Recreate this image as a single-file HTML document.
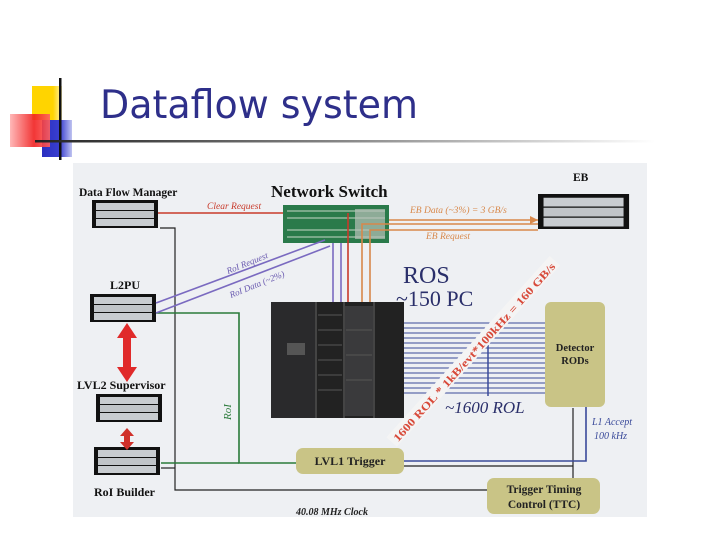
<!DOCTYPE html>
<html><head><meta charset="utf-8"><style>
html,body{margin:0;padding:0;background:#fff;width:720px;height:540px;overflow:hidden}
</style></head><body>
<svg width="720" height="540" viewBox="0 0 720 540" xmlns="http://www.w3.org/2000/svg" font-family="Liberation Serif, serif">
<defs>
<linearGradient id="hl" x1="0" x2="1"><stop offset="0" stop-color="#222"/><stop offset="0.5" stop-color="#888"/><stop offset="1" stop-color="#fff"/></linearGradient>
<linearGradient id="rg" x1="0" x2="1"><stop offset="0" stop-color="#ffb0b0"/><stop offset="0.6" stop-color="#f02020"/><stop offset="1" stop-color="#ff6060"/></linearGradient>
<linearGradient id="yg" x1="0" x2="1"><stop offset="0" stop-color="#ffd400"/><stop offset="0.7" stop-color="#ffd400"/><stop offset="1" stop-color="#fff2b0"/></linearGradient>
<linearGradient id="bg" x1="0" x2="1"><stop offset="0" stop-color="#2a2fc0"/><stop offset="0.6" stop-color="#3a3fd0"/><stop offset="1" stop-color="#c0c4f0"/></linearGradient>
<g id="srv"><rect x="0" y="0" width="66" height="28" fill="#111"/><rect x="4" y="3" width="58" height="7" fill="#c8ccd0"/><rect x="4" y="11" width="58" height="7" fill="#c0c4c8"/><rect x="4" y="19" width="58" height="7" fill="#c8ccd0"/></g>
</defs>
<!-- title decorations -->
<rect x="32" y="86" width="30" height="34" fill="url(#yg)"/>
<rect x="42" y="120" width="30" height="37" fill="url(#bg)"/>
<rect x="10" y="114" width="40" height="33" fill="url(#rg)" opacity="0.9"/>
<rect x="59" y="78" width="2.5" height="82" fill="#111"/>
<rect x="35" y="140" width="620" height="2.5" fill="url(#hl)"/>
<text x="100" y="118" font-family="DejaVu Sans, sans-serif" font-size="39" fill="#2e2f8a" textLength="318" lengthAdjust="spacingAndGlyphs">Dataflow system</text>
<!-- diagram panel -->
<rect x="73" y="163" width="574" height="354" fill="#eef0f3"/>
<!-- labels -->
<g font-weight="bold" fill="#111">
<text x="79" y="196" font-size="11.5">Data Flow Manager</text>
<text x="271" y="197" font-size="17">Network Switch</text>
<text x="573" y="181" font-size="11.5">EB</text>
<text x="110" y="289" font-size="12">L2PU</text>
<text x="77" y="389" font-size="12">LVL2 Supervisor</text>
<text x="94" y="496" font-size="12">RoI Builder</text>
</g>
<!-- servers -->
<use href="#srv" x="92" y="200"/>
<use href="#srv" x="538" y="194" transform="translate(538,194) scale(1.38,1.25) translate(-538,-194)"/>
<use href="#srv" x="90" y="294"/>
<use href="#srv" x="96" y="394"/>
<use href="#srv" x="94" y="447"/>
<!-- black lines -->
<polyline points="160,228 175,228 175,490 488,490" fill="none" stroke="#222" stroke-width="1.2"/>
<polyline points="161,468 175,468" fill="none" stroke="#222" stroke-width="1.2"/>
<polyline points="573,408 573,478" fill="none" stroke="#222" stroke-width="1.2"/>
<polyline points="404,466 573,466" fill="none" stroke="#222" stroke-width="1.2"/>
<!-- green lines -->
<polyline points="156,313 239,313 239,463 297,463" fill="none" stroke="#2a7a3a" stroke-width="1.6"/>
<polyline points="161,463 239,463" fill="none" stroke="#2a7a3a" stroke-width="1.6"/>
<text x="0" y="0" font-size="11" font-style="italic" fill="#2a7a3a" transform="translate(231,420) rotate(-90)">RoI</text>
<!-- blue lines -->
<polyline points="586,407 586,461 404,461" fill="none" stroke="#3a4a9a" stroke-width="1.6"/>
<g stroke="#3a4a9a" stroke-width="1">
<line x1="404" y1="323" x2="546" y2="323"/><line x1="404" y1="328" x2="546" y2="328"/><line x1="404" y1="333" x2="546" y2="333"/><line x1="404" y1="338" x2="546" y2="338"/><line x1="404" y1="343" x2="546" y2="343"/><line x1="404" y1="348" x2="546" y2="348"/><line x1="404" y1="353" x2="546" y2="353"/><line x1="404" y1="358" x2="546" y2="358"/><line x1="404" y1="363" x2="546" y2="363"/><line x1="404" y1="368" x2="546" y2="368"/><line x1="404" y1="373" x2="546" y2="373"/><line x1="404" y1="378" x2="546" y2="378"/><line x1="404" y1="383" x2="546" y2="383"/><line x1="404" y1="388" x2="546" y2="388"/><line x1="404" y1="393" x2="546" y2="393"/>
<line x1="488" y1="345" x2="488" y2="396" stroke-width="1.5"/>
</g>
<!-- switch -->
<rect x="283" y="205" width="106" height="38" fill="#2a7a4a"/>
<g stroke="#c8d8c8" stroke-width="1"><line x1="287" y1="211" x2="385" y2="211"/><line x1="287" y1="218" x2="385" y2="218"/><line x1="287" y1="230" x2="385" y2="230"/><line x1="287" y1="237" x2="385" y2="237"/></g>
<rect x="355" y="209" width="30" height="30" fill="#b8c0b8" opacity="0.7"/>
<!-- red clear request -->
<line x1="158" y1="213" x2="283" y2="213" stroke="#c83a2a" stroke-width="1.5"/>
<text x="207" y="209" font-size="9.5" font-style="italic" fill="#c83a2a">Clear Request</text>
<!-- orange -->
<g stroke="#d8884a" stroke-width="1.6" fill="none">
<polyline points="362,312 362,224 538,224"/><polyline points="370,312 370,230 538,230"/>
<line x1="389" y1="220" x2="538" y2="220"/>
</g>
<polygon points="538,220 530,216 530,224" fill="#d8884a"/>
<text x="410" y="213" font-size="9.5" font-style="italic" fill="#d8884a">EB Data (~3%) = 3 GB/s</text>
<text x="426" y="239" font-size="9.5" font-style="italic" fill="#d8884a">EB Request</text>
<!-- red/purple verticals -->
<line x1="348" y1="213" x2="348" y2="312" stroke="#c83a2a" stroke-width="1.6"/>
<polygon points="348,314 345,306 351,306" fill="#c83a2a"/>
<g stroke="#7a6ac0" stroke-width="1.6" fill="none">
<line x1="333" y1="243" x2="333" y2="310"/><line x1="341" y1="243" x2="341" y2="312"/>
<line x1="325" y1="240" x2="156" y2="303"/><line x1="330" y1="246" x2="156" y2="313"/>
</g>
<text x="0" y="0" font-size="9" font-style="italic" fill="#6a5ab0" transform="translate(228,274) rotate(-22)">RoI Request</text>
<text x="0" y="0" font-size="9" font-style="italic" fill="#6a5ab0" transform="translate(231,298) rotate(-22)">RoI Data (~2%)</text>
<!-- red double arrows -->
<polygon points="127,323 137,338 131,338 131,367 137,367 127,382 117,367 123,367 123,338 117,338" fill="#e02a2a"/>
<polygon points="127,428 134,436 130,436 130,442 134,442 127,450 120,442 124,442 124,436 120,436" fill="#d0302a"/>
<!-- rack -->
<rect x="271" y="302" width="133" height="116" fill="#222"/>
<rect x="271" y="302" width="44" height="116" fill="#2a2a2c"/>
<g stroke="#666" stroke-width="1"><line x1="316" y1="302" x2="316" y2="418"/><line x1="344" y1="302" x2="344" y2="418"/><line x1="374" y1="302" x2="374" y2="418"/></g>
<rect x="345" y="306" width="28" height="110" fill="#3a3a3c"/>
<rect x="287" y="343" width="18" height="12" fill="#555"/>
<g stroke="#555" stroke-width="1"><line x1="318" y1="315" x2="342" y2="315"/><line x1="318" y1="330" x2="342" y2="330"/><line x1="318" y1="345" x2="342" y2="345"/><line x1="318" y1="360" x2="342" y2="360"/><line x1="318" y1="375" x2="342" y2="375"/><line x1="318" y1="390" x2="342" y2="390"/><line x1="346" y1="330" x2="372" y2="330"/><line x1="346" y1="355" x2="372" y2="355"/><line x1="346" y1="380" x2="372" y2="380"/></g>
<!-- ROS text -->
<text x="403" y="283" font-size="24" fill="#2a2f6a">ROS</text>
<text x="396" y="306" font-size="22" fill="#2a2f6a">~150 PC</text>
<text x="445" y="413" font-size="17" font-style="italic" fill="#2a2f6a">~1600 ROL</text>
<!-- diagonal -->
<g transform="translate(474,352) rotate(-48)">
<rect x="-122" y="-8" width="244" height="14" fill="#f4f4f4"/>
<text x="0" y="4" font-size="11" text-anchor="middle" fill="#d84a3a" font-weight="bold" textLength="236" lengthAdjust="spacingAndGlyphs">1600 ROL * 1kB/evt*100kHz = 160 GB/s</text>
</g>
<!-- detector RODs -->
<rect x="545" y="302" width="60" height="105" rx="6" fill="#c9c486"/>
<text x="575" y="351" font-size="10.5" font-weight="bold" text-anchor="middle" fill="#222">Detector</text>
<text x="575" y="364" font-size="10.5" font-weight="bold" text-anchor="middle" fill="#222">RODs</text>
<text x="592" y="425" font-size="10" font-style="italic" fill="#3a4a9a">L1 Accept</text>
<text x="594" y="439" font-size="10" font-style="italic" fill="#3a4a9a">100 kHz</text>
<!-- LVL1 -->
<rect x="296" y="448" width="108" height="26" rx="7" fill="#c9c486"/>
<text x="350" y="465" font-size="12" font-weight="bold" text-anchor="middle" fill="#222">LVL1 Trigger</text>
<!-- TTC -->
<rect x="487" y="478" width="113" height="36" rx="7" fill="#c9c486"/>
<text x="544" y="493" font-size="11.5" font-weight="bold" text-anchor="middle" fill="#222">Trigger Timing</text>
<text x="544" y="508" font-size="11.5" font-weight="bold" text-anchor="middle" fill="#222">Control (TTC)</text>
<text x="296" y="515" font-size="10" font-style="italic" font-weight="bold" fill="#222">40.08 MHz Clock</text>
</svg>
</body></html>
